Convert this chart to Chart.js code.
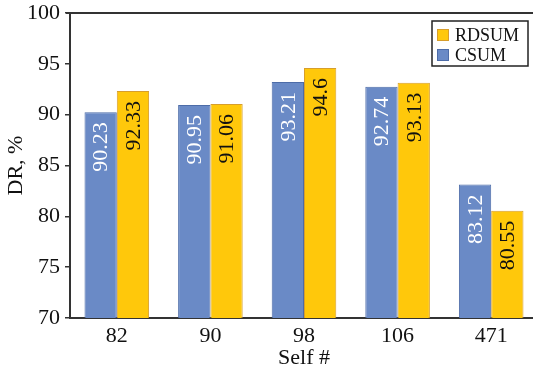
<!DOCTYPE html>
<html>
<head>
<meta charset="utf-8">
<script src="https://cdn.jsdelivr.net/npm/chart.js@4.4.0/dist/chart.umd.min.js"></script>
<style>
  html, body { margin: 0; padding: 0; background: #fff; overflow: hidden; }
  #wrap { width: 538px; height: 373px; }
</style>
</head>
<body>
<div id="wrap"><canvas id="drChart"></canvas></div>
<script>
// data
var categories = ['82', '90', '98', '106', '471'];
var csumValues = [90.23, 90.95, 93.21, 92.74, 83.12];
var rdsumValues = [92.33, 91.06, 94.6, 93.13, 80.55];
var yTicks = [70, 75, 80, 85, 90, 95, 100];

var serif = '"Liberation Serif", "Times New Roman", serif';
var axisColor = '#333333';

// vertical value labels inside the bars
var barLabels = {
  id: 'barLabels',
  afterDatasetsDraw: function (chart) {
    var ctx = chart.ctx;
    chart.data.datasets.forEach(function (ds, i) {
      var meta = chart.getDatasetMeta(i);
      meta.data.forEach(function (bar, j) {
        ctx.save();
        ctx.translate(bar.x, bar.y + 10);
        ctx.rotate(-Math.PI / 2);
        ctx.font = '22px ' + serif;
        ctx.fillStyle = ds.labelColor;
        ctx.textAlign = 'right';
        ctx.textBaseline = 'middle';
        ctx.fillText(String(ds.data[j]), 0, 1);
        ctx.restore();
      });
    });
  }
};

// top frame line + boxed legend
var frameAndLegend = {
  id: 'frameAndLegend',
  afterDraw: function (chart) {
    var ctx = chart.ctx;
    var area = chart.chartArea;
    ctx.save();
    ctx.strokeStyle = axisColor;
    ctx.lineWidth = 2;
    ctx.beginPath();
    ctx.moveTo(area.left - 4, area.top);
    ctx.lineTo(area.right, area.top);
    ctx.stroke();

    // legend box
    ctx.lineWidth = 1.5;
    ctx.strokeStyle = '#222';
    ctx.fillStyle = '#fff';
    ctx.fillRect(432, 21, 96, 45);
    ctx.strokeRect(432, 21, 96, 45);
    var items = chart.data.datasets.slice().reverse();
    ctx.font = '18px ' + serif;
    ctx.textBaseline = 'middle';
    items.forEach(function (ds, k) {
      var y = 35 + k * 20;
      ctx.fillStyle = ds.backgroundColor;
      ctx.fillRect(437.5, y - 5.5, 11, 11);
      ctx.lineWidth = 1;
      ctx.strokeStyle = ds.borderColor;
      ctx.strokeRect(437.5, y - 5.5, 11, 11);
      ctx.fillStyle = '#111';
      ctx.fillText(ds.label, 455, y + 1);
    });
    ctx.restore();
  }
};

var ctx = document.getElementById('drChart').getContext('2d');
var drChart = new Chart(ctx, {
  type: 'bar',
  data: {
    labels: categories,
    datasets: [{
      label: 'CSUM',
      data: csumValues,
      backgroundColor: '#6a8ac6',
      borderColor: '#4d6ca8',
      borderWidth: 1,
      labelColor: '#ffffff'
    }, {
      label: 'RDSUM',
      data: rdsumValues,
      backgroundColor: '#ffc80b',
      borderColor: '#d79e2b',
      borderWidth: 1,
      labelColor: '#111111'
    }]
  },
  options: {
    responsive: true,
    maintainAspectRatio: false,
    animation: false,
    categoryPercentage: 0.69,
    barPercentage: 1.0,
    layout: { padding: { top: 13, right: 0, left: 0, bottom: 0 } },
    plugins: {
      legend: { display: false },
      tooltip: { enabled: false }
    },
    scales: {
      x: {
        grid: { display: true, drawOnChartArea: false, drawTicks: false },
        border: { display: true, color: axisColor, width: 2 },
        ticks: { color: '#111', font: { family: serif, size: 22 }, padding: 5 },
        title: { display: true, text: 'Self #', color: '#111', font: { family: serif, size: 22 }, padding: { top: 0, bottom: 2 } },
        afterFit: function (scale) { scale.height = 55; }
      },
      y: {
        min: 70,
        max: 100,
        afterBuildTicks: function (scale) {
          scale.ticks = yTicks.map(function (v) { return { value: v }; });
        },
        grid: { display: true, drawOnChartArea: false, drawTicks: true, tickLength: 5, color: axisColor, lineWidth: 1.5 },
        border: { display: true, color: axisColor, width: 2 },
        ticks: { color: '#111', font: { family: serif, size: 22, lineHeight: 1 }, padding: 5 },
        title: { display: true, text: 'DR, %', color: '#111', font: { family: serif, size: 22 }, padding: { top: 3, bottom: 0 } },
        afterFit: function (scale) { scale.width = 70; scale.paddingTop = 0; }
      }
    }
  },
  plugins: [barLabels, frameAndLegend]
});
</script>
</body>
</html>
